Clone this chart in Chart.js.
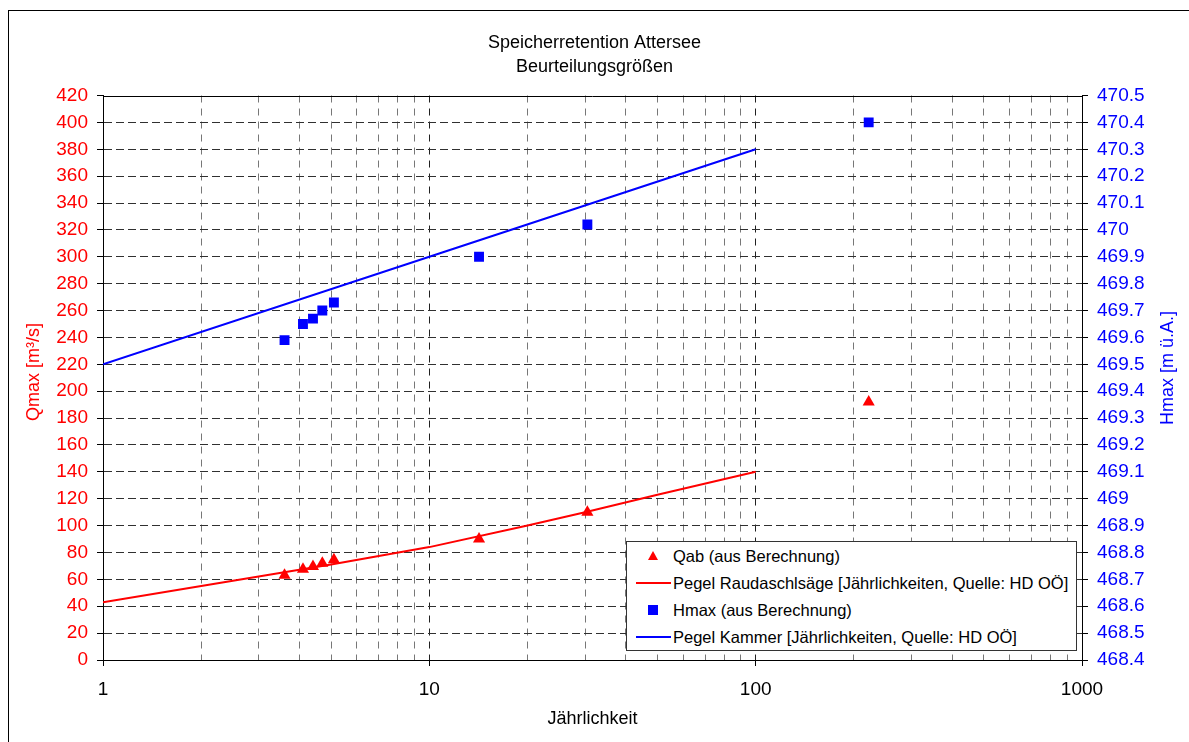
<!DOCTYPE html>
<html>
<head>
<meta charset="utf-8">
<script src="https://cdn.jsdelivr.net/npm/chart.js@4"></script>
<style>
  html, body { margin: 0; padding: 0; background: #fff; overflow: hidden; }
  #wrap { position: relative; width: 1189px; height: 742px; }
  #legend {
    position: absolute; left: 626px; top: 541px; width: 449px; height: 108px;
    border: 1px solid #333; background: #fff;
    font-family: 'Liberation Sans', Arial, sans-serif; font-size: 16.5px; color: #000;
  }
  .row { position: absolute; left: 0; height: 20px; width: 100%; }
  .row span.txt { position: absolute; left: 46px; top: 0; line-height: 20px; white-space: nowrap; }
  .tri { position: absolute; left: 21px; top: 5px; width: 0; height: 0;
    border-left: 5px solid transparent; border-right: 5px solid transparent; border-bottom: 9px solid #ff0000; }
  .sq { position: absolute; left: 21px; top: 5px; width: 10px; height: 10px; background: #0000ff; }
  .ln { position: absolute; left: 9px; top: 9px; width: 35px; height: 2px; }
</style>
</head>
<body>
<div id="wrap">
  <canvas id="chart" width="1189" height="742"></canvas>
  <div id="legend">
    <div class="row" style="top:4px"><div class="tri"></div><span class="txt">Qab (aus Berechnung)</span></div>
    <div class="row" style="top:31px"><div class="ln" style="background:#ff0000"></div><span class="txt">Pegel Raudaschlsäge [Jährlichkeiten, Quelle: HD OÖ]</span></div>
    <div class="row" style="top:58px"><div class="sq"></div><span class="txt">Hmax (aus Berechnung)</span></div>
    <div class="row" style="top:85px"><div class="ln" style="background:#0000ff"></div><span class="txt">Pegel Kammer [Jährlichkeiten, Quelle: HD OÖ]</span></div>
  </div>
</div>
<script>
// Jährlichkeiten der berechneten Ereignisse
const eventT = [3.6, 4.1, 4.4, 4.7, 5.1, 14.2, 30.5, 222];
// Qab (aus Berechnung) [m³/s]
const qabValues = [63, 67.5, 69.5, 72, 74.5, 90, 110, 192];
// Hmax (aus Berechnung) [m ü.A.]
const hmaxValues = [469.59, 469.65, 469.67, 469.70, 469.73, 469.90, 470.02, 470.40];

// Pegel Raudaschlsäge
const raudT = [1, 2, 5, 10, 20, 30, 50, 100];
const raudValues = [43, 55, 71, 84, 100, 110, 123, 140];

// Pegel Kammer
const kammerT = [1, 10, 100];
const kammerValues = [469.5, 469.9, 470.3];

// Achsen
const xTicks = [1, 2, 3, 4, 5, 6, 7, 8, 9, 10, 20, 30, 40, 50, 60, 70, 80, 90,
  100, 200, 300, 400, 500, 600, 700, 800, 900, 1000];
const xLabelTicks = [1, 10, 100, 1000];

const FONT = "'Liberation Sans', Arial, sans-serif";
Chart.defaults.font.family = FONT;

function toPoints(xs, ys) {
  return xs.map((x, i) => ({ x: x, y: ys[i] }));
}

// Rahmen, obere Plotkante und Achsentitel
const framePlugin = {
  id: 'frame',
  beforeDraw(chart) {
    const ctx = chart.ctx;
    ctx.save();
    ctx.fillStyle = '#fff';
    ctx.fillRect(0, 0, chart.width, chart.height);
    ctx.strokeStyle = '#000';
    ctx.lineWidth = 1;
    ctx.strokeRect(8.5, 10.5, 1400, 900);
    ctx.restore();
  },
  afterDraw(chart) {
    const ctx = chart.ctx;
    const a = chart.chartArea;
    ctx.save();
    ctx.strokeStyle = '#000';
    ctx.lineWidth = 1;
    ctx.beginPath();
    ctx.moveTo(a.left, Math.round(a.top) + 0.5);
    ctx.lineTo(a.right, Math.round(a.top) + 0.5);
    ctx.stroke();

    ctx.font = '18px ' + FONT;
    ctx.textAlign = 'center';
    ctx.textBaseline = 'middle';

    ctx.save();
    ctx.translate(34, 372);
    ctx.rotate(-Math.PI / 2);
    ctx.fillStyle = '#ff0000';
    ctx.fillText('Qmax [m³/s]', 0, 0);
    ctx.restore();

    ctx.save();
    ctx.translate(1168, 368);
    ctx.rotate(-Math.PI / 2);
    ctx.fillStyle = '#0000ff';
    ctx.fillText('Hmax [m ü.A.]', 0, 0);
    ctx.restore();

    ctx.restore();
  }
};

const ctx = document.getElementById('chart').getContext('2d');
new Chart(ctx, {
  type: 'line',
  data: {
    datasets: [
      {
        label: 'Qab (aus Berechnung)',
        data: toPoints(eventT, qabValues),
        yAxisID: 'y',
        showLine: false,
        pointStyle: 'triangle',
        pointRadius: 7,
        pointBorderWidth: 0,
        pointBackgroundColor: '#ff0000',
        borderColor: '#ff0000'
      },
      {
        label: 'Pegel Raudaschlsäge [Jährlichkeiten, Quelle: HD OÖ]',
        data: toPoints(raudT, raudValues),
        yAxisID: 'y',
        borderColor: '#ff0000',
        borderWidth: 2,
        pointRadius: 0,
        tension: 0
      },
      {
        label: 'Hmax (aus Berechnung)',
        data: toPoints(eventT, hmaxValues),
        yAxisID: 'y2',
        showLine: false,
        pointStyle: 'rect',
        pointRadius: 7,
        pointBorderWidth: 0,
        pointBackgroundColor: '#0000ff',
        borderColor: '#0000ff'
      },
      {
        label: 'Pegel Kammer [Jährlichkeiten, Quelle: HD OÖ]',
        data: toPoints(kammerT, kammerValues),
        yAxisID: 'y2',
        borderColor: '#0000ff',
        borderWidth: 2,
        pointRadius: 0,
        tension: 0
      }
    ]
  },
  options: {
    responsive: false,
    animation: false,
    devicePixelRatio: 1,
    layout: { padding: { top: 21, left: 0, right: 0, bottom: 8 } },
    plugins: {
      legend: { display: false },
      tooltip: { enabled: false },
      title: {
        display: true,
        text: ['Speicherretention Attersee', 'Beurteilungsgrößen'],
        color: '#000',
        font: { size: 18, weight: 'normal', lineHeight: 1.32 },
        padding: { top: 10, bottom: 17 }
      }
    },
    scales: {
      x: {
        type: 'logarithmic',
        min: 1,
        max: 1000,
        afterBuildTicks: (scale) => {
          scale.ticks = xTicks.map(v => ({ value: v }));
        },
        afterFit: (scale) => { scale.height = 74; },
        ticks: {
          autoSkip: false,
          maxRotation: 0,
          padding: 12,
          color: '#000',
          font: { size: 19 },
          callback: (v) => xLabelTicks.includes(v) ? String(v) : ''
        },
        grid: {
          color: (c) => {
            const v = c.tick ? c.tick.value : 0;
            if (v === 1 || v === 1000) return 'rgba(0,0,0,0)';
            return (v === 10 || v === 100) ? '#202020' : '#777777';
          },
          tickColor: (c) => (c.tick && xLabelTicks.includes(c.tick.value)) ? '#000' : 'rgba(0,0,0,0)',
          tickLength: 6,
          lineWidth: 1
        },
        border: { display: true, color: '#000', width: 1, dash: [7, 6] },
        title: {
          display: true,
          text: 'Jährlichkeit',
          color: '#000',
          font: { size: 18 },
          padding: { top: 0, bottom: 4 }
        }
      },
      y: {
        position: 'left',
        min: 0,
        max: 420,
        afterFit: (scale) => { scale.width = 103; },
        ticks: {
          stepSize: 20,
          padding: 9,
          color: '#ff0000',
          font: { size: 19 }
        },
        grid: {
          color: (c) => {
            const v = c.tick ? c.tick.value : 0;
            return (v === 0 || v === 420) ? 'rgba(0,0,0,0)' : '#303030';
          },
          tickColor: '#000',
          tickLength: 6,
          lineWidth: 1
        },
        border: { display: true, color: '#000', width: 1, dash: [8, 4] }
      },
      y2: {
        position: 'right',
        min: 468.4,
        max: 470.5,
        afterFit: (scale) => { scale.width = 107; },
        ticks: {
          stepSize: 0.1,
          padding: 9,
          color: '#0000ff',
          font: { size: 19 },
          callback: (v) => String(Number(v.toFixed(1)))
        },
        grid: {
          drawOnChartArea: false,
          color: '#000',
          tickColor: '#000',
          tickLength: 6
        },
        border: { display: true, color: '#000', width: 1 }
      }
    }
  },
  plugins: [framePlugin]
});
</script>
</body>
</html>
